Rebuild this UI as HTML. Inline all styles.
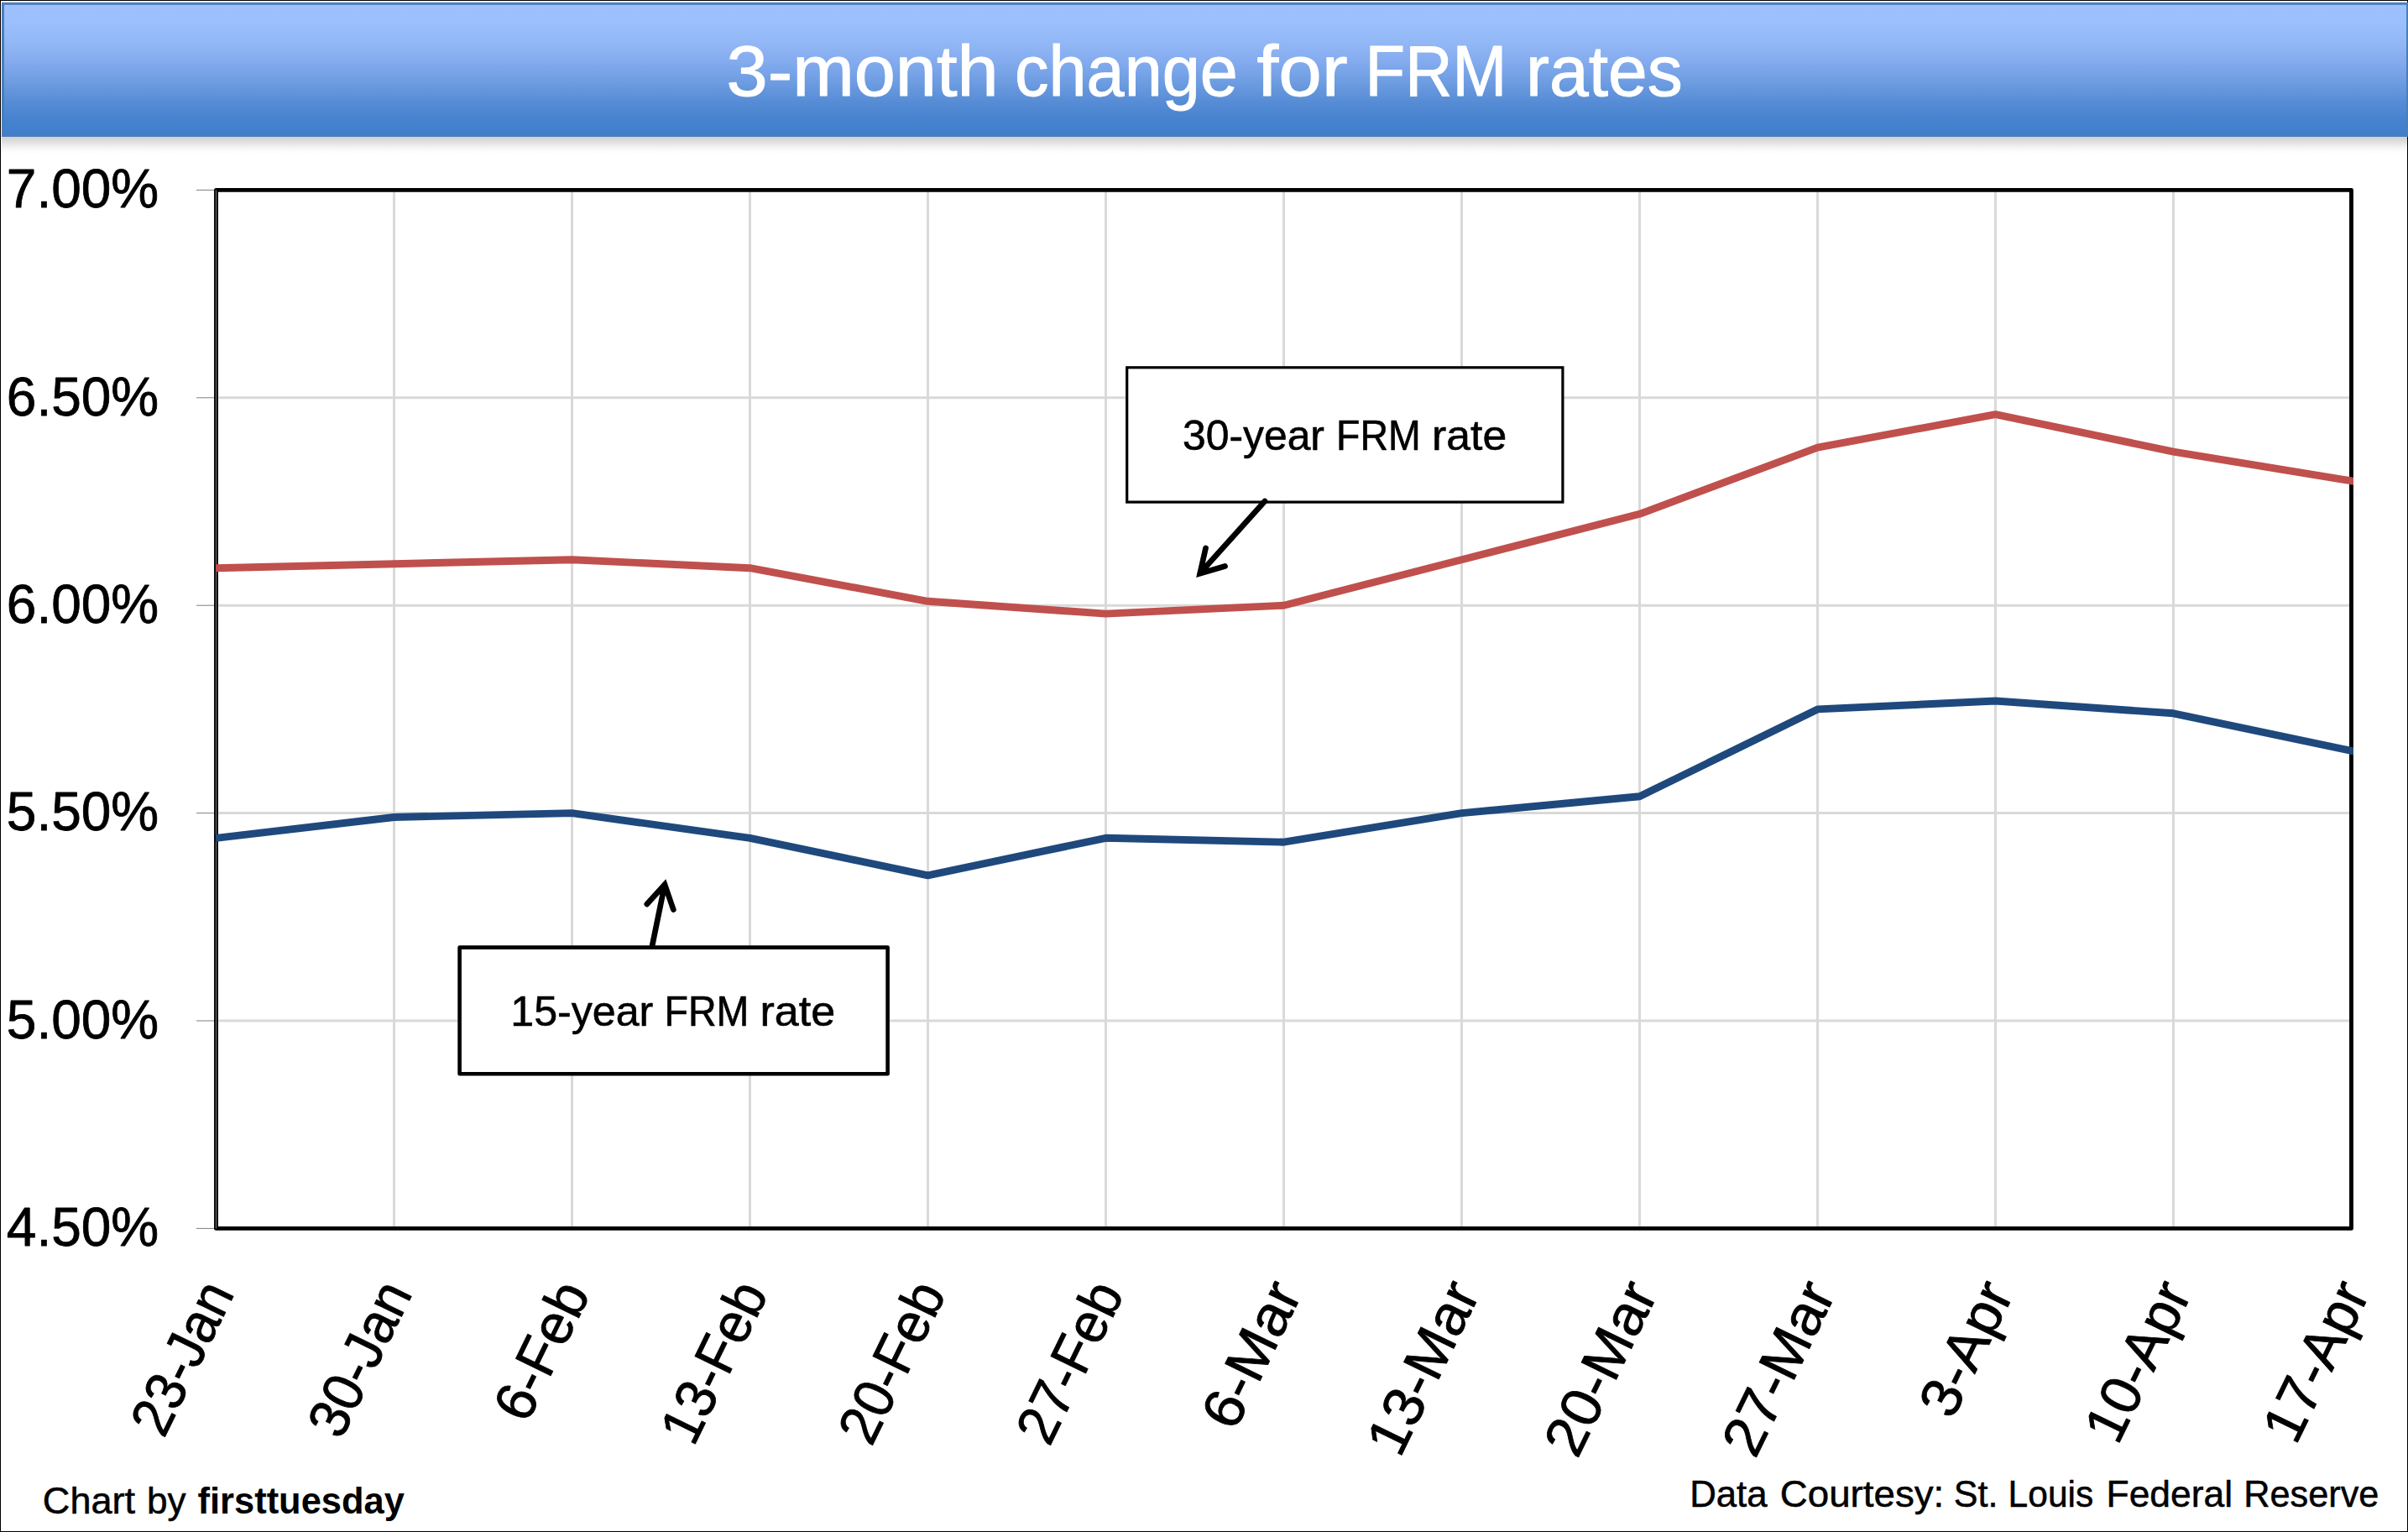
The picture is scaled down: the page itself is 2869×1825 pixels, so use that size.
<!DOCTYPE html>
<html lang="en"><head><meta charset="utf-8"><title>3-month change for FRM rates</title>
<style>html,body{margin:0;padding:0;background:#fff}body{width:2869px;height:1825px;overflow:hidden}svg{display:block}text{font-family:"Liberation Sans",sans-serif}</style></head><body>
<svg width="2869" height="1825" viewBox="0 0 2869 1825">
<defs><linearGradient id="hg" x1="0" y1="0" x2="0" y2="1">
<stop offset="0" stop-color="#9dc2ff"/>
<stop offset="0.15" stop-color="#9abffc"/>
<stop offset="0.30" stop-color="#92b7f6"/>
<stop offset="0.45" stop-color="#82aaed"/>
<stop offset="0.60" stop-color="#6d9ce1"/>
<stop offset="0.75" stop-color="#568cd5"/>
<stop offset="0.88" stop-color="#4782cf"/>
<stop offset="1" stop-color="#3f7ecd"/>
</linearGradient><linearGradient id="sh" x1="0" y1="0" x2="0" y2="1">
<stop offset="0" stop-color="#000" stop-opacity="0.18"/>
<stop offset="0.25" stop-color="#000" stop-opacity="0.125"/>
<stop offset="0.45" stop-color="#000" stop-opacity="0.065"/>
<stop offset="0.65" stop-color="#000" stop-opacity="0.02"/>
<stop offset="0.8" stop-color="#000" stop-opacity="0.004"/>
<stop offset="1" stop-color="#000" stop-opacity="0"/>
</linearGradient><clipPath id="pc"><rect x="256.9" y="200" width="2547.05" height="1290"/></clipPath></defs>
<rect x="0" y="0" width="2869" height="1825" fill="#fff"/>
<rect x="0.5" y="0.5" width="2868" height="1824" fill="none" stroke="#000" stroke-width="1"/>
<rect x="2" y="163" width="2866" height="24" fill="url(#sh)"/>
<rect x="3.5" y="4.3" width="2865" height="157.2" fill="url(#hg)" stroke="#4a7ebb" stroke-width="3"/>
<path d="M469.5 226.4V1463.4M681.5 226.4V1463.4M893.5 226.4V1463.4M1105.5 226.4V1463.4M1317.5 226.4V1463.4M1529.5 226.4V1463.4M1741.5 226.4V1463.4M1953.5 226.4V1463.4M2165.5 226.4V1463.4M2377.5 226.4V1463.4M2589.5 226.4V1463.4M257.5 473.8H2801.5M257.5 721.2H2801.5M257.5 968.6H2801.5M257.5 1216.0H2801.5" stroke="#d9d9d9" stroke-width="3" fill="none"/>
<path d="M234 226.4H257.5M234 473.8H257.5M234 721.2H257.5M234 968.6H257.5M234 1216.0H257.5M234 1463.4H257.5" stroke="#7f7f7f" stroke-width="1" fill="none"/>
<rect x="257.5" y="226.4" width="2544.0" height="1237.0" fill="none" stroke="#000" stroke-width="4.9" stroke-linejoin="round"/>
<path d="M257.4 226.4V1463.4" stroke="#808080" stroke-width="1" fill="none"/>
<polyline clip-path="url(#pc)" points="249.5,999.2 257.5,998.3 469.5,973.5 681.5,968.6 893.5,998.3 1105.5,1042.8 1317.5,998.3 1529.5,1003.2 1741.5,968.6 1953.5,948.8 2165.5,844.9 2377.5,835.0 2589.5,849.8 2801.5,894.4 2809.5,896.1" fill="none" stroke="#1f497d" stroke-width="8.9" stroke-linejoin="round" stroke-linecap="butt"/>
<polyline clip-path="url(#pc)" points="249.5,676.9 257.5,676.7 469.5,671.7 681.5,666.8 893.5,676.7 1105.5,716.3 1317.5,731.1 1529.5,721.2 1741.5,666.8 1953.5,612.3 2165.5,533.2 2377.5,493.6 2589.5,538.1 2801.5,572.8 2809.5,574.1" fill="none" stroke="#c0504d" stroke-width="8.9" stroke-linejoin="round" stroke-linecap="butt"/>
<g aria-label="3-month change for FRM rates">
<text transform="translate(865.58 114.20) scale(1.0394 1)" font-size="85" text-anchor="start" fill="#fff" stroke="#fff" stroke-width="1.02" stroke-linejoin="round">3-month</text>
<text transform="translate(1209.05 114.20) scale(0.9529 1)" font-size="85" text-anchor="start" fill="#fff" stroke="#fff" stroke-width="1.02" stroke-linejoin="round">change</text>
<text transform="translate(1497.41 114.20) scale(1.0918 1)" font-size="85" text-anchor="start" fill="#fff" stroke="#fff" stroke-width="1.02" stroke-linejoin="round">for</text>
<text transform="translate(1626.62 114.20) scale(0.9159 1)" font-size="85" text-anchor="start" fill="#fff" stroke="#fff" stroke-width="1.02" stroke-linejoin="round">FRM</text>
<text transform="translate(1818.10 114.20) scale(0.9876 1)" font-size="85" text-anchor="start" fill="#fff" stroke="#fff" stroke-width="1.02" stroke-linejoin="round">rates</text>
</g>
<text transform="translate(7.87 247.20) scale(0.9768 1)" font-size="65.5" text-anchor="start" fill="#000" stroke="#000" stroke-width="0.79" stroke-linejoin="round">7.00%</text>
<text transform="translate(7.87 494.60) scale(0.9768 1)" font-size="65.5" text-anchor="start" fill="#000" stroke="#000" stroke-width="0.79" stroke-linejoin="round">6.50%</text>
<text transform="translate(7.87 742.00) scale(0.9768 1)" font-size="65.5" text-anchor="start" fill="#000" stroke="#000" stroke-width="0.79" stroke-linejoin="round">6.00%</text>
<text transform="translate(7.87 989.40) scale(0.9768 1)" font-size="65.5" text-anchor="start" fill="#000" stroke="#000" stroke-width="0.79" stroke-linejoin="round">5.50%</text>
<text transform="translate(7.87 1236.80) scale(0.9768 1)" font-size="65.5" text-anchor="start" fill="#000" stroke="#000" stroke-width="0.79" stroke-linejoin="round">5.00%</text>
<text transform="translate(7.87 1484.20) scale(0.9768 1)" font-size="65.5" text-anchor="start" fill="#000" stroke="#000" stroke-width="0.79" stroke-linejoin="round">4.50%</text>
<text transform="translate(280.00 1540.60) rotate(-64) scale(0.938 1)" font-size="67.5" text-anchor="end" fill="#000" stroke="#000" stroke-width="0.81" stroke-linejoin="round">23-Jan</text>
<text transform="translate(492.00 1540.60) rotate(-64) scale(0.948 1)" font-size="67.5" text-anchor="end" fill="#000" stroke="#000" stroke-width="0.81" stroke-linejoin="round">30-Jan</text>
<text transform="translate(704.00 1540.60) rotate(-64) scale(0.988 1)" font-size="67.5" text-anchor="end" fill="#000" stroke="#000" stroke-width="0.81" stroke-linejoin="round">6-Feb</text>
<text transform="translate(916.00 1540.60) rotate(-64) scale(0.957 1)" font-size="67.5" text-anchor="end" fill="#000" stroke="#000" stroke-width="0.81" stroke-linejoin="round">13-Feb</text>
<text transform="translate(1128.00 1540.60) rotate(-64) scale(0.957 1)" font-size="67.5" text-anchor="end" fill="#000" stroke="#000" stroke-width="0.81" stroke-linejoin="round">20-Feb</text>
<text transform="translate(1340.00 1540.60) rotate(-64) scale(0.957 1)" font-size="67.5" text-anchor="end" fill="#000" stroke="#000" stroke-width="0.81" stroke-linejoin="round">27-Feb</text>
<text transform="translate(1552.00 1540.60) rotate(-64) scale(1.047 1)" font-size="67.5" text-anchor="end" fill="#000" stroke="#000" stroke-width="0.81" stroke-linejoin="round">6-Mar</text>
<text transform="translate(1764.00 1540.60) rotate(-64) scale(1.027 1)" font-size="67.5" text-anchor="end" fill="#000" stroke="#000" stroke-width="0.81" stroke-linejoin="round">13-Mar</text>
<text transform="translate(1976.00 1540.60) rotate(-64) scale(1.033 1)" font-size="67.5" text-anchor="end" fill="#000" stroke="#000" stroke-width="0.81" stroke-linejoin="round">20-Mar</text>
<text transform="translate(2188.00 1540.60) rotate(-64) scale(1.033 1)" font-size="67.5" text-anchor="end" fill="#000" stroke="#000" stroke-width="0.81" stroke-linejoin="round">27-Mar</text>
<text transform="translate(2400.00 1540.60) rotate(-64) scale(1.024 1)" font-size="67.5" text-anchor="end" fill="#000" stroke="#000" stroke-width="0.81" stroke-linejoin="round">3-Apr</text>
<text transform="translate(2612.00 1540.60) rotate(-64) scale(1.002 1)" font-size="67.5" text-anchor="end" fill="#000" stroke="#000" stroke-width="0.81" stroke-linejoin="round">10-Apr</text>
<text transform="translate(2824.00 1540.60) rotate(-64) scale(1.0 1)" font-size="67.5" text-anchor="end" fill="#000" stroke="#000" stroke-width="0.81" stroke-linejoin="round">17-Apr</text>
<rect x="1342.7" y="437.8" width="519.2" height="160.3" fill="#fff" stroke="#000" stroke-width="3.2"/>
<g aria-label="30-year FRM rate">
<text transform="translate(1408.92 536.00) scale(0.9975 1)" font-size="50" text-anchor="start" fill="#000" stroke="#000" stroke-width="0.60" stroke-linejoin="round">30-year</text>
<text transform="translate(1592.08 536.00) scale(0.9303 1)" font-size="50" text-anchor="start" fill="#000" stroke="#000" stroke-width="0.60" stroke-linejoin="round">FRM</text>
<text transform="translate(1706.10 536.00) scale(1.0333 1)" font-size="50" text-anchor="start" fill="#000" stroke="#000" stroke-width="0.60" stroke-linejoin="round">rate</text>
</g>
<rect x="547.6" y="1128.6" width="510" height="150.7" fill="#fff" stroke="#000" stroke-width="4.6" stroke-linejoin="round"/>
<g aria-label="15-year FRM rate">
<text transform="translate(608.28 1221.80) scale(1.0031 1)" font-size="50" text-anchor="start" fill="#000" stroke="#000" stroke-width="0.60" stroke-linejoin="round">15-year</text>
<text transform="translate(791.57 1221.80) scale(0.9313 1)" font-size="50" text-anchor="start" fill="#000" stroke="#000" stroke-width="0.60" stroke-linejoin="round">FRM</text>
<text transform="translate(905.48 1221.80) scale(1.0407 1)" font-size="50" text-anchor="start" fill="#000" stroke="#000" stroke-width="0.60" stroke-linejoin="round">rate</text>
</g>
<g fill="none" stroke="#000" stroke-width="6.7" stroke-linecap="round" stroke-linejoin="miter">
<path d="M1507 597L1429.7 683.1M1436.5 653L1429.7 683.1L1459.5 674.5"/>
<path d="M777.2 1126L792 1053.7M770.8 1077.1L792 1053.7L802.3 1083.5"/>
</g>
<g aria-label="Chart by firsttuesday">
<text transform="translate(50.85 1803.20) scale(1.0242 1)" font-size="44" text-anchor="start" fill="#000" stroke="#000" stroke-width="0.53" stroke-linejoin="round">Chart</text>
<text transform="translate(175.02 1803.20) scale(1.0031 1)" font-size="44" text-anchor="start" fill="#000" stroke="#000" stroke-width="0.53" stroke-linejoin="round">by</text>
<text transform="translate(235.56 1803.20) scale(0.9875 1)" font-size="44" text-anchor="start" fill="#000" font-weight="bold">firsttuesday</text>
</g>
<g aria-label="Data Courtesy: St. Louis Federal Reserve">
<text transform="translate(2013.21 1795.20) scale(0.9935 1)" font-size="44" text-anchor="start" fill="#000" stroke="#000" stroke-width="0.53" stroke-linejoin="round">Data</text>
<text transform="translate(2120.72 1795.20) scale(1.0389 1)" font-size="44" text-anchor="start" fill="#000" stroke="#000" stroke-width="0.53" stroke-linejoin="round">Courtesy:</text>
<text transform="translate(2327.84 1795.20) scale(0.9792 1)" font-size="44" text-anchor="start" fill="#000" stroke="#000" stroke-width="0.53" stroke-linejoin="round">St.</text>
<text transform="translate(2392.61 1795.20) scale(0.9663 1)" font-size="44" text-anchor="start" fill="#000" stroke="#000" stroke-width="0.53" stroke-linejoin="round">Louis</text>
<text transform="translate(2509.55 1795.20) scale(1.0091 1)" font-size="44" text-anchor="start" fill="#000" stroke="#000" stroke-width="0.53" stroke-linejoin="round">Federal</text>
<text transform="translate(2673.14 1795.20) scale(0.9843 1)" font-size="44" text-anchor="start" fill="#000" stroke="#000" stroke-width="0.53" stroke-linejoin="round">Reserve</text>
</g>
</svg></body></html>
